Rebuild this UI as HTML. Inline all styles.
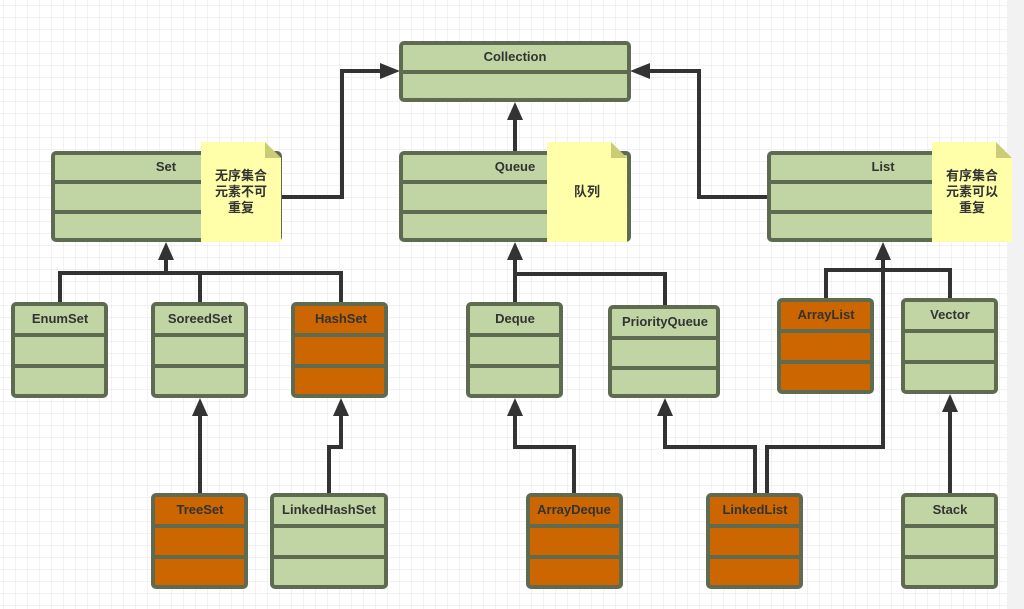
<!DOCTYPE html>
<html><head><meta charset="utf-8"><style>
body{margin:0;width:1024px;height:609px;overflow:hidden;background:#fff;}
svg{display:block}
text{font-family:"Liberation Sans","Noto Sans CJK SC",sans-serif;font-size:13px;fill:#333;text-anchor:middle}
</style></head><body>
<svg width="1024" height="609" xmlns="http://www.w3.org/2000/svg">
<defs>
<pattern id="g" width="12" height="12" patternUnits="userSpaceOnUse" x="4" y="6">
<path d="M12 0V12M0 12H12" stroke="#e6e6e6" stroke-width="1" fill="none"/>
</pattern>
<marker id="a" markerWidth="10" markerHeight="10" refX="9" refY="5" orient="auto" markerUnits="userSpaceOnUse" viewBox="0 0 10 10">
</marker>
</defs>
<rect width="1024" height="609" fill="url(#g)"/>
<rect x="1007" y="0" width="17" height="609" fill="#f2f2f2"/>

<g stroke="#333" stroke-width="4" fill="none">
<polyline points="282,197 342,197 342,71 390,71"/>
<polyline points="767,197 699,197 699,71 640,71"/>
<line x1="515" y1="151" x2="515" y2="112"/>
<polyline points="60,302 60,273 341,273 341,302"/>
<line x1="200" y1="273" x2="200" y2="302"/>
<line x1="166" y1="273" x2="166" y2="252"/>
<polyline points="515,302 515,274 665,274 665,305"/>
<line x1="515" y1="274" x2="515" y2="252"/>
<polyline points="826,298 826,270 950,270 950,298"/>
<polyline points="767,493 767,447 883,447 883,252"/>
<polyline points="755,493 755,447 665,447 665,408"/>
<line x1="200" y1="493" x2="200" y2="408"/>
<polyline points="329,493 329,447 341,447 341,408"/>
<polyline points="574,493 574,447 515,447 515,408"/>
<line x1="950" y1="493" x2="950" y2="408"/>
</g>
<g fill="#333">
<polygon points="400,71 380,63 380,79"/>
<polygon points="630,71 650,63 650,79"/>
<polygon points="515,102 507,120 523,120"/>
<polygon points="166,242 158,260 174,260"/>
<polygon points="515,242 507,260 523,260"/>
<polygon points="883,242 875,260 891,260"/>
<polygon points="200,398 192,416 208,416"/>
<polygon points="341,398 333,416 349,416"/>
<polygon points="515,398 507,416 523,416"/>
<polygon points="665,398 657,416 673,416"/>
<polygon points="950,394 942,412 958,412"/>
</g>

<g stroke="#5f6b50" stroke-width="4">
<!-- Collection -->
<rect x="401" y="43" width="228" height="57" rx="3" fill="#c0d5a3"/>
<line x1="401" y1="72" x2="629" y2="72"/>
<!-- big boxes -->
<rect x="53" y="153" width="227" height="87" rx="3" fill="#c0d5a3"/>
<line x1="53" y1="182" x2="280" y2="182"/><line x1="53" y1="212" x2="280" y2="212"/>
<rect x="401" y="153" width="228" height="87" rx="3" fill="#c0d5a3"/>
<line x1="401" y1="182" x2="629" y2="182"/><line x1="401" y1="212" x2="629" y2="212"/>
<rect x="769" y="153" width="227" height="87" rx="3" fill="#c0d5a3"/>
<line x1="769" y1="182" x2="996" y2="182"/><line x1="769" y1="212" x2="996" y2="212"/>
</g>
<g stroke="#5f6b50" stroke-width="4">
<!-- small boxes: x,y,w,h -->
<rect x="13" y="304" width="93" height="92" rx="3" fill="#c0d5a3"/><line x1="13" y1="335" x2="106" y2="335"/><line x1="13" y1="366" x2="106" y2="366"/>
<rect x="153" y="304" width="93" height="92" rx="3" fill="#c0d5a3"/><line x1="153" y1="335" x2="246" y2="335"/><line x1="153" y1="366" x2="246" y2="366"/>
<rect x="293" y="304" width="93" height="92" rx="3" fill="#cc6600"/><line x1="293" y1="335" x2="386" y2="335"/><line x1="293" y1="366" x2="386" y2="366"/>
<rect x="468" y="304" width="93" height="92" rx="3" fill="#c0d5a3"/><line x1="468" y1="335" x2="561" y2="335"/><line x1="468" y1="366" x2="561" y2="366"/>
<rect x="610" y="307" width="108" height="89" rx="3" fill="#c0d5a3"/><line x1="610" y1="338" x2="718" y2="338"/><line x1="610" y1="368" x2="718" y2="368"/>
<rect x="779" y="300" width="93" height="92" rx="3" fill="#cc6600"/><line x1="779" y1="331" x2="872" y2="331"/><line x1="779" y1="362" x2="872" y2="362"/>
<rect x="903" y="300" width="93" height="92" rx="3" fill="#c0d5a3"/><line x1="903" y1="331" x2="996" y2="331"/><line x1="903" y1="362" x2="996" y2="362"/>
<rect x="153" y="495" width="93" height="92" rx="3" fill="#cc6600"/><line x1="153" y1="526" x2="246" y2="526"/><line x1="153" y1="557" x2="246" y2="557"/>
<rect x="272" y="495" width="114" height="92" rx="3" fill="#c0d5a3"/><line x1="272" y1="526" x2="386" y2="526"/><line x1="272" y1="557" x2="386" y2="557"/>
<rect x="528" y="495" width="93" height="92" rx="3" fill="#cc6600"/><line x1="528" y1="526" x2="621" y2="526"/><line x1="528" y1="557" x2="621" y2="557"/>
<rect x="708" y="495" width="93" height="92" rx="3" fill="#cc6600"/><line x1="708" y1="526" x2="801" y2="526"/><line x1="708" y1="557" x2="801" y2="557"/>
<rect x="903" y="495" width="93" height="92" rx="3" fill="#c0d5a3"/><line x1="903" y1="526" x2="996" y2="526"/><line x1="903" y1="557" x2="996" y2="557"/>
</g>
<!-- notes -->
<g>
<polygon points="201,142 265,142 281,158 281,242 201,242" fill="#ffffaa"/>
<polygon points="265,142 281,158 265,158" fill="#cccc77"/>
<polygon points="547,142 611,142 627,158 627,242 547,242" fill="#ffffaa"/>
<polygon points="611,142 627,158 611,158" fill="#cccc77"/>
<polygon points="932,142 996,142 1012,158 1012,242 932,242" fill="#ffffaa"/>
<polygon points="996,142 1012,158 996,158" fill="#cccc77"/>
</g>
<g font-weight="bold">
<text x="515" y="61">Collection</text>
<text x="166" y="171">Set</text>
<text x="515" y="171">Queue</text>
<text x="883" y="171">List</text>
<text x="60" y="323">EnumSet</text>
<text x="200" y="323">SoreedSet</text>
<text x="341" y="323">HashSet</text>
<text x="515" y="323">Deque</text>
<text x="665" y="326">PriorityQueue</text>
<text x="826" y="319">ArrayList</text>
<text x="950" y="319">Vector</text>
<text x="200" y="514">TreeSet</text>
<text x="329" y="514">LinkedHashSet</text>
<text x="574" y="514">ArrayDeque</text>
<text x="755" y="514">LinkedList</text>
<text x="950" y="514">Stack</text>
<text x="241" y="180">无序集合</text>
<text x="241" y="196">元素不可</text>
<text x="241" y="212">重复</text>
<text x="587" y="196">队列</text>
<text x="972" y="180">有序集合</text>
<text x="972" y="196">元素可以</text>
<text x="972" y="212">重复</text>
</g>
</svg>
</body></html>
